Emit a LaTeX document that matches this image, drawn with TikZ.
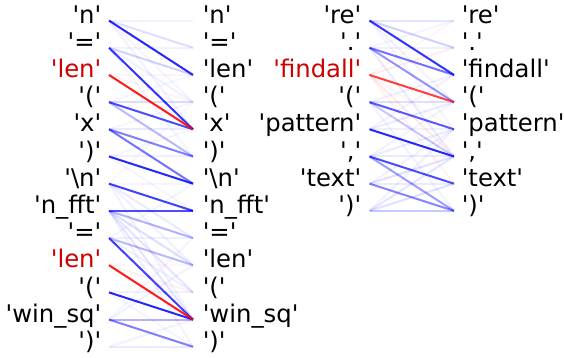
\documentclass[tikz,border=0pt]{standalone}
\usepackage{fontspec}
\newfontfamily\dv{DejaVu Sans}
\definecolor{lblred}{RGB}{204,0,0}
\definecolor{attblue}{RGB}{0,0,255}
\definecolor{attred}{RGB}{255,0,0}
\newcommand\qq{\textquotesingle}
\tikzset{
  lbl/.style={inner sep=0pt, text height=0.76em, text depth=0.24em, font=\dv\fontsize{24.3}{28}\selectfont},
  lleft/.style={lbl, anchor=east},
  lright/.style={lbl, anchor=west},
  hot/.style={text=lblred},
  att/.style={line width=2pt, draw=attblue, draw opacity=#1},
  attr/.style={line width=2pt, draw=attred, draw opacity=#1},
}
\begin{document}
\begin{tikzpicture}[x=1pt,y=-1pt]
\useasboundingbox (0,0) rectangle (564,358);
% ---------- left panel ----------
\foreach \k/\t/\s in {0/n/,1/=/,2/len/hot,3/(/,4/x/,5/)/,6/\textbackslash n/,7/n\_fft/,8/=/,9/len/hot,10/(/,11/win\_sq/,12/)/}{
  \coordinate (La\k) at (109,{20.6+27.18*\k});
  \coordinate (Lb\k) at (193,{20.6+27.18*\k});
  \node[lleft,\s] (Lt\k) at (101.5,{20.6+27.18*\k}) {\qq\t\qq};
  \node[lright] (Lu\k) at (202.6,{20.6+27.18*\k}) {\qq\t\qq};
}
\foreach \i/\j/\a in {0/0/.05,0/1/.13,0/2/.85,0/3/.04,0/4/.05,
  1/1/.05,1/2/.18,1/3/.06,1/4/.8,1/5/.04,
  3/3/.14,3/4/.7,3/5/.28,3/2/.04,
  4/4/.08,4/5/.5,4/6/.55,4/3/.04,
  5/5/.06,5/6/.85,5/4/.04,5/7/.04,
  6/6/.04,6/7/.75,6/8/.08,6/9/.06,6/11/.05,6/3/.03,
  7/7/.7,7/8/.3,7/9/.13,7/10/.1,7/11/.1,7/12/.05,
  8/8/.06,8/9/.28,8/11/.75,8/6/.04,8/10/.06,
  10/10/.06,10/11/.85,10/12/.04,
  11/11/.3,11/12/.5,11/9/.05,11/8/.04,
  12/12/.08,12/11/.05}{
  \draw[att=\a] (La\i) -- (Lb\j);
}
\foreach \i/\j/\a in {2/2/.04,2/3/.04,2/4/.9,9/11/.9,9/10/.05,9/9/.03}{
  \draw[attr=\a] (La\i) -- (Lb\j);
}
% ---------- right panel ----------
\foreach \k/\t/\s in {0/re/,1/./,2/findall/hot,3/(/,4/pattern/,5/{,}/,6/text/,7/)/}{
  \coordinate (Ra\k) at (369.5,{20.6+27.18*\k});
  \coordinate (Rb\k) at (454,{20.6+27.18*\k});
  \node[lleft,\s] (Rt\k) at (361.5,{20.6+27.18*\k}) {\qq\t\qq};
  \node[lright] (Ru\k) at (461.6,{20.6+27.18*\k}) {\qq\t\qq};
}
\foreach \i/\j/\a in {0/0/.1,0/1/.18,0/2/.8,0/3/.05,0/4/.04,
  1/1/.06,1/2/.55,1/3/.42,1/5/.08,1/0/.04,
  3/3/.13,3/4/.65,3/5/.22,3/2/.06,3/7/.05,
  4/4/.06,4/5/.85,4/3/.08,4/2/.05,
  5/5/.08,5/6/.7,5/7/.38,5/4/.08,5/3/.05,
  6/6/.08,6/7/.48,6/5/.12,6/4/.06,
  7/7/.22,7/6/.12,7/5/.1,7/4/.05}{
  \draw[att=\a] (Ra\i) -- (Rb\j);
}
\foreach \i/\j/\a in {2/3/.75,2/1/.07,2/0/.04,2/5/.08,2/6/.05,2/4/.04}{
  \draw[attr=\a] (Ra\i) -- (Rb\j);
}
\end{tikzpicture}
\end{document}
